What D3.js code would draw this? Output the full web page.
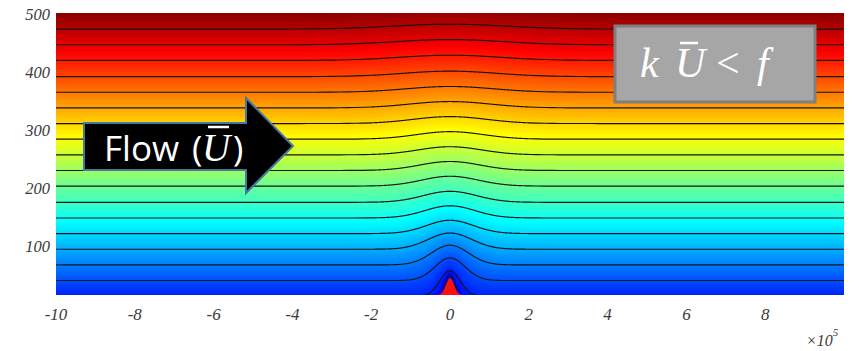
<!DOCTYPE html>
<html>
<head>
<meta charset="utf-8">
<script src="https://cdn.jsdelivr.net/npm/d3@7"></script>
<style>
  body { margin: 0; background: #fff; }
  svg { display: block; }
</style>
</head>
<body>
<svg id="chart" width="859" height="351"></svg>
<script>
// far-field height of each contour line (isentrope)
const levels = [-16, 12, 39, 66, 93, 120, 147, 174, 202, 229, 256, 283, 310, 337, 364, 391, 419, 446, 473];
// how far each line is lifted above the ridge top
const lifts = [64, 44, 39, 34, 28, 23, 21, 19, 17, 15.5, 14, 13, 12, 11, 10, 9.5, 9, 9, 8.5];
// half width of each bump, in units of 10^5
const spreads = [0.2, 0.3, 0.45, 0.55, 0.65, 0.7, 0.75, 0.8, 0.85, 0.9, 0.95, 1.0, 1.1, 1.2, 1.3, 1.4, 1.5, 1.6, 1.7];
const xTicks = [-10, -8, -6, -4, -2, 0, 2, 4, 6, 8];
const yTicks = [100, 200, 300, 400, 500];
const ridgeHeight = 29;
const ridgeSpread = 0.12;

const svg = d3.select('#chart');
const plot = { left: 56, right: 844, top: 13.5, bottom: 295 };

const x = d3.scaleLinear().domain([-10, 10]).range([plot.left, plot.right]);
const y = d3.scaleLinear().domain([14, 500]).range([plot.bottom, plot.top]);

// jet colour map over the isentrope value
const jetStops = ['#00008f', '#0000ff', '#00ffff', '#ffff00', '#ff0000', '#800000'];
const lo = -79, hi = 505;
const color = d3.scaleLinear()
  .domain([0, 0.125, 0.375, 0.625, 0.875, 1].map(f => lo + f * (hi - lo)))
  .range(jetStops)
  .clamp(true);

const bump = (x0, w) => Math.exp(-Math.LN2 * (x0 / w) * (x0 / w));

// lines used for the fill: the data lines plus one below and two above
const n = levels.length;
const step = levels[n - 1] - levels[n - 2];
const fillLines = [{ lev: levels[0] - step, a: lifts[0], w: spreads[0] }]
  .concat(levels.map((lev, i) => ({ lev, a: lifts[i], w: spreads[i] })))
  .concat([1, 2].map(j => ({ lev: levels[n - 1] + j * step, a: lifts[n - 1], w: spreads[n - 1] })));

const lineZ = (ln, xv) => ln.lev + ln.a * bump(xv, ln.w);

const xs = [...d3.range(-10, -2, 0.2), ...d3.range(-2, 2, 0.01), ...d3.range(2, 10.0001, 0.2)];

svg.append('clipPath').attr('id', 'plotClip')
  .append('rect')
  .attr('x', plot.left).attr('y', plot.top)
  .attr('width', plot.right - plot.left).attr('height', plot.bottom - plot.top);

const field = svg.append('g').attr('clip-path', 'url(#plotClip)');

// base colour below the lowest fill line
field.append('rect')
  .attr('x', plot.left).attr('y', plot.top)
  .attr('width', plot.right - plot.left).attr('height', plot.bottom - plot.top)
  .attr('fill', color(fillLines[0].lev - step / 2));

// smooth shading: many thin sub-bands between neighbouring lines
const sub = 8;
const bands = [];
for (let k = 0; k < fillLines.length - 1; k++) {
  const a = fillLines[k], b = fillLines[k + 1];
  for (let t = 0; t < sub; t++) {
    bands.push({ a, b, t0: t / sub, mid: a.lev + (b.lev - a.lev) * (t + 0.5) / sub });
  }
}

const bandArea = d3.area()
  .x(d => x(d.xv))
  .y0(d => y(d.z))
  .y1(plot.top - 20);

field.selectAll('path.band').data(bands).join('path')
  .attr('class', 'band')
  .attr('fill', d => color(d.mid))
  .attr('d', d => bandArea(xs.map(xv => {
    const za = lineZ(d.a, xv), zb = lineZ(d.b, xv);
    return { xv, z: za + (zb - za) * d.t0 };
  })));

// contour lines
const contour = d3.line().x(d => x(d[0])).y(d => y(d[1]));
field.selectAll('path.iso').data(fillLines.slice(1, n + 1)).join('path')
  .attr('class', 'iso')
  .attr('fill', 'none')
  .attr('stroke', '#151515')
  .attr('stroke-width', 1.15)
  .attr('d', ln => contour(xs.map(xv => [xv, lineZ(ln, xv)])));

// the ridge
const ridgeXs = d3.range(-0.6, 0.6001, 0.005);
field.append('path')
  .attr('fill', '#ff1010')
  .attr('d', d3.area()
    .x(d => x(d))
    .y0(plot.bottom + 2)
    .y1(d => y(14 + ridgeHeight * bump(d, ridgeSpread)))(ridgeXs));

// tick labels
const tickFont = "'Liberation Serif', 'Times New Roman', serif";
svg.append('g').selectAll('text').data(yTicks).join('text')
  .attr('x', 50).attr('y', d => y(d) + 6.5)
  .attr('text-anchor', 'end')
  .attr('font-family', tickFont).attr('font-style', 'italic')
  .attr('font-size', 16.5).attr('fill', '#3a3a3a')
  .text(d => d);

svg.append('g').selectAll('text').data(xTicks).join('text')
  .attr('x', d => x(d)).attr('y', 320)
  .attr('text-anchor', 'middle')
  .attr('font-family', tickFont).attr('font-style', 'italic')
  .attr('font-size', 17).attr('fill', '#3a3a3a')
  .text(d => d);

const expo = svg.append('text')
  .attr('x', 806).attr('y', 346)
  .attr('font-family', tickFont).attr('font-style', 'italic')
  .attr('font-size', 16).attr('fill', '#3a3a3a');
expo.append('tspan').text('\u00d710');
expo.append('tspan').attr('dy', -10).attr('font-size', 11).text('5');

// flow arrow
const arrow = svg.append('g');
arrow.append('path')
  .attr('d', 'M84,123 L246,123 L246,98 L293,146 L246,193 L246,170 L84,170 Z')
  .attr('fill', '#000')
  .attr('stroke', '#4677a3')
  .attr('stroke-width', 2);

const flowText = arrow.append('text')
  .attr('y', 161)
  .attr('fill', '#fff')
  .attr('font-family', "'Open Sans', sans-serif")
  .attr('font-size', 35);
flowText.append('tspan').attr('x', 104).text('Flow');
flowText.append('tspan').attr('x', 192).text('(');
flowText.append('tspan').attr('x', 202)
  .attr('font-family', "'Liberation Serif', serif").attr('font-style', 'italic')
  .attr('font-size', 39).text('U');
flowText.append('tspan').attr('x', 233).text(')');
arrow.append('line')
  .attr('x1', 208).attr('x2', 229).attr('y1', 127).attr('y2', 127)
  .attr('stroke', '#fff').attr('stroke-width', 2.5);

// regime box
const box = svg.append('g');
box.append('rect')
  .attr('x', 615).attr('y', 26).attr('width', 200).attr('height', 76)
  .attr('fill', '#a6a6a6')
  .attr('stroke', '#7f7f7f')
  .attr('stroke-width', 3);

const mathFont = "'Liberation Serif', 'DejaVu Serif', serif";
const boxText = box.append('text')
  .attr('y', 77)
  .attr('fill', '#fff')
  .attr('font-family', mathFont)
  .attr('font-size', 42);
boxText.append('tspan').attr('x', 640).attr('font-style', 'italic').text('k');
boxText.append('tspan').attr('x', 675).attr('font-style', 'italic').text('U');
boxText.append('tspan').attr('x', 716).text('<');
boxText.append('tspan').attr('x', 757).attr('font-style', 'italic').text('f');
box.append('line')
  .attr('x1', 680).attr('x2', 698).attr('y1', 43).attr('y2', 43)
  .attr('stroke', '#fff').attr('stroke-width', 2.5);
</script>
</body>
</html>
